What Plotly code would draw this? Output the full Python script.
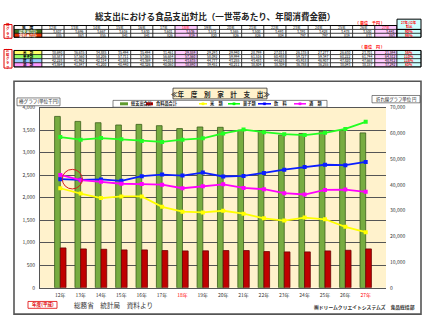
import plotly.graph_objects as go

# ---------------- data ----------------
years = ["12年", "13年", "14年", "15年", "16年", "17年", "18年", "19年",
         "20年", "21年", "22年", "23年", "24年", "25年", "26年", "27年"]
red_years = ["18年", "27年"]

# 棒グラフ (単位 千円)
total_exp = [3807, 3696, 3667, 3616, 3630, 3601, 3536, 3572,
             3565, 3500, 3493, 3391, 3428, 3478, 3500, 3441]
food_exp = [885, 863, 855, 841, 841, 826, 819, 820,
            826, 826, 804, 797, 797, 819, 833, 863]

# 折れ線グラフ (単位 円)
rice = [38690, 36635, 34885, 35494, 35494, 31461, 29559, 29293,
        29940, 28799, 27011, 26135, 27277, 26630, 23701, 21594]
sweets = [58587, 57560, 58206, 57711, 57065, 56684, 57560, 58092,
          59994, 61516, 60488, 59727, 59347, 60222, 61744, 64512]
drinks = [42228, 41962, 42114, 41581, 43369, 44015, 43635, 44777,
          43255, 43483, 44625, 45918, 46907, 47820, 47668, 48912]
alcohol = [43864, 41847, 41200, 40440, 40326, 40060, 38690, 39451,
           40211, 38804, 38309, 36788, 36255, 38043, 38157, 37292]

FONT = "Noto Sans CJK JP"
W, H = 430, 325


def px(x):
    return x / W


def py(y):
    return 1 - y / H


shapes = []
annos = []


def rect(x0, y0, x1, y1, fill=None, line="#000", lw=0.6):
    shapes.append(dict(type="rect", xref="paper", yref="paper",
                       x0=px(x0), x1=px(x1), y0=py(y1), y1=py(y0),
                       fillcolor=fill if fill else "rgba(0,0,0,0)",
                       line=dict(color=line, width=lw)))


def hline(x0, x1, y, color, lw):
    shapes.append(dict(type="line", xref="paper", yref="paper",
                       x0=px(x0), x1=px(x1), y0=py(y), y1=py(y),
                       line=dict(color=color, width=lw)))


def txt(x, y, s, size=4, color="#000", xanchor="center", bold=False):
    if bold:
        s = "<b>" + s + "</b>"
    annos.append(dict(x=px(x), y=py(y), xref="paper", yref="paper", text=s,
                      showarrow=False, xanchor=xanchor, yanchor="middle",
                      font=dict(size=size, color=color, family=FONT),
                      borderpad=0))


# ---------------- title ----------------
txt(215, 12, "総支出における食品支出対比（一世帯あたり、年間消費金額）", size=8.6,
    color="#222", bold=True)

# ---------------- tables ----------------
LX0, LX1 = 14, 42
CX1 = 397
cw = (CX1 - LX1) / len(years)
PINK = "#FFCCFF"
CYAN = "#CCFFFF"


def colx(i):
    return LX1 + cw * i


# table 1
rect(4, 21, 12, 35, fill="#FFFFFF", line="#E00000", lw=1)
txt(8, 28, "棒<br>グ<br>ラ<br>フ", size=3.4, color="#E00000", bold=True)
t1_rows = [22, 26, 30, 34]
rect(LX0, 22, LX1, 26, fill="#FFFFFF")
txt((LX0 + LX1) / 2, 24, "年　度", size=3.8, bold=True)
rect(LX0, 26, LX1, 30, fill="#3F6F1F")
txt((LX0 + LX1) / 2, 28, "総支出合計", size=3.6, color="#FFFFFF", bold=True)
rect(LX0, 30, LX1, 34, fill="#E03000")
txt((LX0 + LX1) / 2, 32, "食料品合計", size=3.6, color="#FFFFFF", bold=True)
for i, yr in enumerate(years):
    fill = PINK if yr in red_years else "#FFFFFF"
    x0, x1 = colx(i), colx(i + 1)
    for r in range(3):
        rect(x0, t1_rows[r], x1, t1_rows[r + 1], fill=fill)
    txt((x0 + x1) / 2, 24, yr, size=3.6,
        color="#FF0000" if yr in red_years else "#000")
    txt(x1 - 1.5, 28, f"{total_exp[i]:,}", size=3.4, xanchor="right")
    txt(x1 - 1.5, 32, f"{food_exp[i]:,}", size=3.4, xanchor="right")
rect(LX0, 22, CX1, 34, line="#000", lw=1)
rect(CX1, 15.5, 421, 26, fill=CYAN, line="#000", lw=1)
txt(409, 18.5, "27年/12年", size=3.2, color="#FF0000", bold=True)
txt(409, 23, "対比", size=3.2, color="#FF0000", bold=True)
rect(CX1, 26, 421, 30, fill=CYAN)
rect(CX1, 30, 421, 34, fill=CYAN)
rect(CX1, 26, 421, 34, line="#000", lw=1)
txt(409, 28, f"{round(total_exp[-1] / total_exp[0] * 100)}%", size=3.6,
    color="#FF0000", bold=True)
txt(409, 32, f"{round(food_exp[-1] / food_exp[0] * 100)}%", size=3.6,
    color="#FF0000", bold=True)
txt(370, 19.5, "（ 単位　千円 ）", size=4, color="#FF0000", bold=True)

# table 2
t2_rows = [47.5, 51.7, 55.9, 60.1, 64.3]
rect(4, 46.5, 12, 65.5, fill="#FFFFFF", line="#E00000", lw=1)
txt(8, 56, "折<br>線<br>グ<br>ラ<br>フ", size=3.2, color="#E00000", bold=True)
t2_labels = ["米　類", "菓子類", "飲　料", "酒　類"]
t2_fills = ["#FFFF66", "#99FF66", "#99CCFF", "#FF99FF"]
t2_data = [rice, sweets, drinks, alcohol]
for r in range(4):
    y0, y1 = t2_rows[r], t2_rows[r + 1]
    rect(LX0, y0, LX1, y1, fill=t2_fills[r])
    txt((LX0 + LX1) / 2, (y0 + y1) / 2, t2_labels[r], size=3.4, bold=True)
    for i, yr in enumerate(years):
        fill = PINK if yr in red_years else "#FFFFFF"
        x0, x1 = colx(i), colx(i + 1)
        rect(x0, y0, x1, y1, fill=fill)
        txt(x1 - 1.5, (y0 + y1) / 2, f"{t2_data[r][i]:,}", size=3.4,
            xanchor="right")
    rect(CX1, y0, 421, y1, fill=CYAN)
    txt(409, (y0 + y1) / 2,
        f"{round(t2_data[r][-1] / t2_data[r][0] * 100)}%", size=3.4,
        color="#FF0000", bold=True)
rect(LX0, 47.5, 421, 64.3, line="#000", lw=1)
txt(372, 43.5, "（ 単位　円 ）", size=4, color="#FF0000", bold=True)

# ---------------- chart frame & decorations ----------------
rect(14, 79, 421, 317, line="#555", lw=1.6)
rect(173, 86, 267, 97, fill="#FFF2CC", line="#333", lw=0.8)
txt(220, 91.5, "≪年　度　別　家　計　支　出≫", size=6.6, color="#222", bold=True)
rect(17, 96, 60, 104, fill="#FFFFFF", line="#333", lw=0.6)
txt(38.5, 100, "棒グラフ(単位千円)", size=4.6, color="#222")
rect(372, 93.5, 420, 101, fill="#FFFFFF", line="#333", lw=0.6)
txt(396, 97.3, "折れ線グラフ単位 円", size=4.4, color="#222")

# legend box
rect(113, 98.5, 327, 105.5, fill="#FFFFFF", line="#333", lw=0.6)
leg = [
    (120, 128, "#5E9A2E", 3, False, "総支出合計"),
    (146, 153, "#C00000", 3, False, "食料品合計"),
    (199, 207, "#FFFF00", 1.5, True, "米　類"),
    (228, 240, "#00FF00", 1.5, True, "菓子類"),
    (258, 271, "#0000FF", 1.5, True, "飲　料"),
    (294, 306, "#FF00FF", 1.5, True, "酒　類"),
]
for x0, x1, col, lw, mk, label in leg:
    hline(x0, x1, 102, col, lw)
    if mk:
        m = (x0 + x1) / 2
        rect(m - 1.2, 100.8, m + 1.2, 103.2, fill=col, line=col, lw=0.3)
    txt(x1 + 2, 102, label, size=4.2, color="#222", xanchor="left", bold=True)

# highlight circle
shapes.append(dict(type="circle", xref="paper", yref="paper",
                   x0=px(62.3), x1=px(82.3), y0=py(189), y1=py(169),
                   line=dict(color="#D02020", width=1)))

# bottom texts
rect(28, 304, 57, 311, fill="#FFFFFF", line="#E00000", lw=0.8)
txt(42.5, 307.5, "年度(平成)", size=4.6, color="#E00000", bold=True)
txt(73, 307.5, "総務省　統計局　資料より", size=6.6, color="#333", xanchor="left")
txt(416, 310, "㈱ドリームクリエイトシステムズ　食品総括部", size=4.8, color="#333",
    xanchor="right", bold=True)

# ---------------- traces ----------------
fig = go.Figure()
fig.add_trace(go.Bar(x=years, y=total_exp, name="総支出合計",
                     marker=dict(color="#77AC41", line=dict(color="#3A5E1A", width=0.8))))
fig.add_trace(go.Bar(x=years, y=food_exp, name="食料品合計",
                     marker=dict(color="#C00000", line=dict(color="#6A0000", width=0.8))))
line_specs = [("米　類", rice, "#FFFF00"), ("菓子類", sweets, "#22FF22"),
              ("飲　料", drinks, "#0A1EFF"), ("酒　類", alcohol, "#FF00FF")]
for name, vals, col in line_specs:
    fig.add_trace(go.Scatter(x=years, y=vals, name=name, yaxis="y2",
                             mode="lines+markers",
                             line=dict(color=col, width=1.8),
                             marker=dict(color=col, size=4, symbol="square")))

ticktext = [f"<span style='color:#FF0000'>{y}</span>" if y in red_years else y
            for y in years]

fig.update_layout(
    width=W, height=H, autosize=False,
    margin=dict(l=0, r=0, t=0, b=0),
    paper_bgcolor="#FFFFFF", plot_bgcolor="#FFF2CC",
    font=dict(family=FONT, size=5, color="#333"),
    showlegend=False,
    barmode="group", bargap=0.44, bargroupgap=0,
    xaxis=dict(domain=[px(40), px(386)], type="category",
               tickvals=years, ticktext=ticktext,
               tickfont=dict(size=5, color="#333"),
               showgrid=False, showline=True, linecolor="#555", linewidth=1,
               mirror=True, ticks="", ticklabelstandoff=2),
    yaxis=dict(domain=[py(290), py(106)], range=[0, 4000], dtick=500,
               tickformat=",", tickfont=dict(size=5, color="#333"),
               showgrid=True, gridcolor="#555", gridwidth=0.8,
               showline=True, linecolor="#555", linewidth=1, zeroline=False,
               ticks="", ticklabelstandoff=3),
    yaxis2=dict(overlaying="y", side="right", range=[0, 70000], dtick=10000,
                tickformat=",", tickfont=dict(size=5, color="#333"),
                showgrid=False, zeroline=False, showline=False, ticks="",
                ticklabelstandoff=3),
    shapes=shapes,
    annotations=annos,
)

fig.write_html("out.html")
